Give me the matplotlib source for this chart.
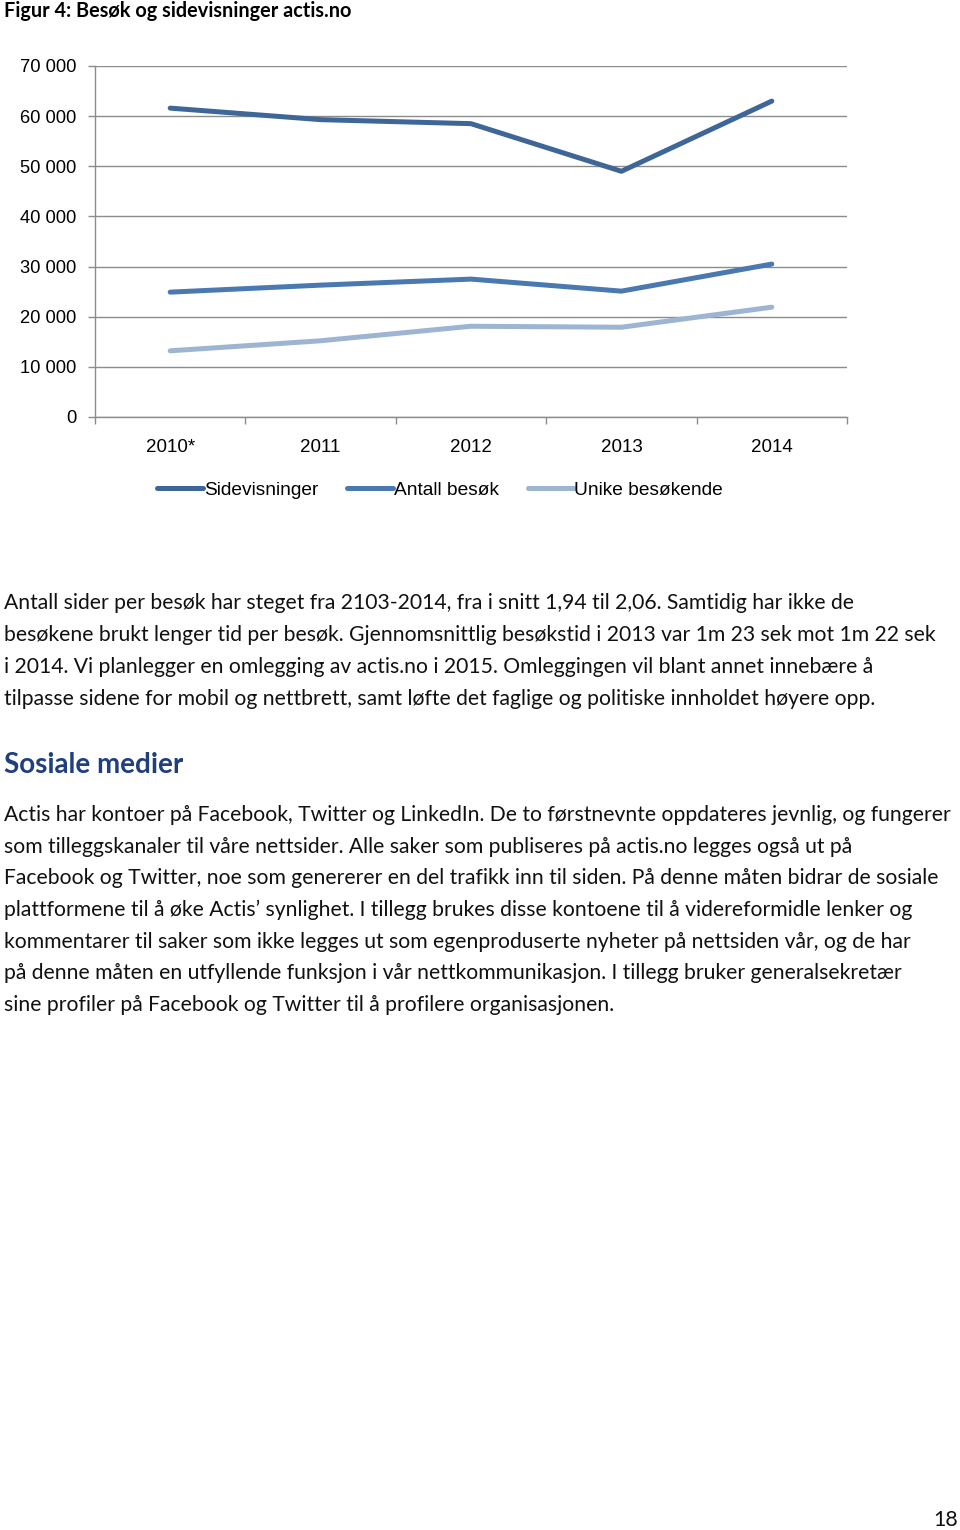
import matplotlib.pyplot as plt

# data
years = ['2010*', '2011', '2012', '2013', '2014']
sidevisninger = [61600, 59300, 58500, 49000, 63000]
antall_besok = [24900, 26300, 27500, 25100, 30500]
unike_besokende = [13200, 15200, 18100, 17900, 21900]
yticks = [0, 10000, 20000, 30000, 40000, 50000, 60000, 70000]
ylabels = ['0', '10 000', '20 000', '30 000', '40 000', '50 000', '60 000', '70 000']

para1 = [
    "Antall sider per besøk har steget fra 2103-2014, fra i snitt 1,94 til 2,06. Samtidig har ikke de",
    "besøkene brukt lenger tid per besøk. Gjennomsnittlig besøkstid i 2013 var 1m 23 sek mot 1m 22 sek",
    "i 2014. Vi planlegger en omlegging av actis.no i 2015. Omleggingen vil blant annet innebære å",
    "tilpasse sidene for mobil og nettbrett, samt løfte det faglige og politiske innholdet høyere opp.",
]
para2 = [
    "Actis har kontoer på Facebook, Twitter og LinkedIn. De to førstnevnte oppdateres jevnlig, og fungerer",
    "som tilleggskanaler til våre nettsider. Alle saker som publiseres på actis.no legges også ut på",
    "Facebook og Twitter, noe som genererer en del trafikk inn til siden. På denne måten bidrar de sosiale",
    "plattformene til å øke Actis’ synlighet. I tillegg brukes disse kontoene til å videreformidle lenker og",
    "kommentarer til saker som ikke legges ut som egenproduserte nyheter på nettsiden vår, og de har",
    "på denne måten en utfyllende funksjon i vår nettkommunikasjon. I tillegg bruker generalsekretær",
    "sine profiler på Facebook og Twitter til å profilere organisasjonen.",
]

W, H = 960, 1530
fig = plt.figure(figsize=(W / 100, H / 100), dpi=100)

def fy(py):
    return 1 - py / H

ax = fig.add_axes([95 / W, fy(417), (847 - 95) / W, (417 - 66) / H])
x = range(len(years))
ax.plot(x, sidevisninger, color='#3e6699', lw=3.6, solid_capstyle='round', label='Sidevisninger', zorder=3)
ax.plot(x, antall_besok, color='#4a78b0', lw=3.6, solid_capstyle='round', label='Antall besøk', zorder=3)
ax.plot(x, unike_besokende, color='#9db4d3', lw=3.6, solid_capstyle='round', label='Unike besøkende', zorder=3)

ax.set_xlim(-0.5, len(years) - 0.5)
ax.set_ylim(0, 70000)
ax.set_yticks(yticks)
ax.set_yticklabels(ylabels, fontsize=13.2, family='Liberation Sans')
ax.set_xticks(x)
ax.set_xticklabels(years, fontsize=13.5, family='Liberation Sans')
ax.set_xticks([i - 0.5 for i in range(len(years) + 1)], minor=True)
ax.tick_params(axis='x', which='major', length=0, pad=15.5)
ax.tick_params(axis='x', which='minor', length=5, color='#8c8c8c', width=1)
ax.tick_params(axis='y', length=5, color='#8c8c8c', width=1, pad=8.5)
ax.grid(axis='y', color='#8c8c8c', lw=1)
for s in ['top', 'right']:
    ax.spines[s].set_visible(False)
for s in ['left', 'bottom']:
    ax.spines[s].set_color('#8c8c8c')
    ax.spines[s].set_linewidth(1)

fig.legend(loc='center', bbox_to_anchor=(440 / W, fy(490)), ncol=3, frameon=False,
           prop={'family': 'Liberation Sans', 'size': 13.8}, handlelength=2.4,
           handletextpad=0.05, columnspacing=1.5)

fig.text(4 / W, fy(11), "Figur 4: Besøk og sidevisninger actis.no", fontsize=14.3,
         fontweight='bold', family=['Lato', 'DejaVu Sans'], va='center', ha='left')

body = dict(fontsize=15.2, family=['Lato', 'DejaVu Sans'], va='center', ha='left', color='#111111')
for i, line in enumerate(para1):
    fig.text(4 / W, fy(603 + 32 * i), line, **body)

fig.text(4 / W, fy(765), "Sosiale medier", fontsize=20, fontweight='bold',
         family=['Lato', 'DejaVu Sans'], color='#1f3f7f', va='center', ha='left')

for i, line in enumerate(para2):
    fig.text(4 / W, fy(815 + 31.7 * i), line, **body)

fig.text(958 / W, fy(1520), "18", fontsize=15.4, family=['Lato', 'DejaVu Sans'],
         va='center', ha='right', color='#111111')

fig.savefig('out.png', dpi=100)
